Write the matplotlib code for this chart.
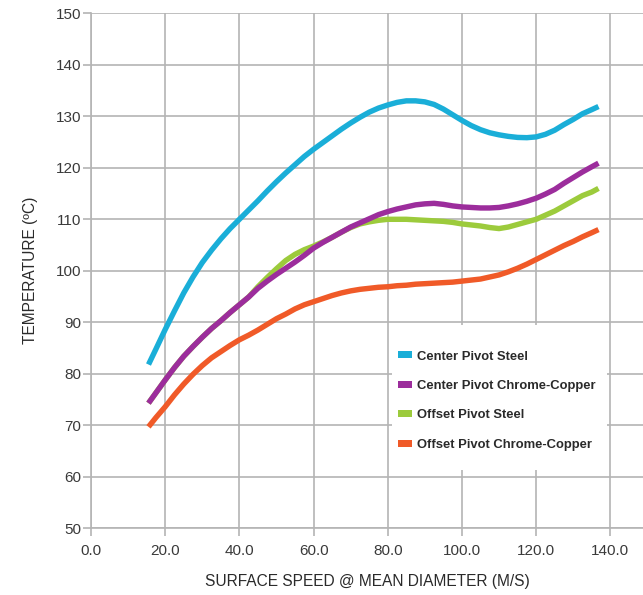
import matplotlib
matplotlib.use("Agg")
import matplotlib.pyplot as plt
from matplotlib.patches import Patch, Rectangle

plt.rcParams['font.family'] = ['Liberation Sans', 'DejaVu Sans']

# Data
speed = [15.5, 17.5, 20, 22.5, 25, 27.5, 30, 32.5, 35, 37.5,
         40, 42.5, 45, 47.5, 50, 52.5, 55, 57.5, 60, 62.5,
         65, 67.5, 70, 72.5, 75, 77.5, 80, 82.5, 85, 87.5,
         90, 92.5, 95, 97.5, 100, 102.5, 105, 107.5, 110, 112.5,
         115, 117.5, 120, 122.5, 125, 127.5, 130, 132.5, 135, 136.8]
center_pivot_steel = [81.8, 84.8, 88.6, 92.2, 95.7, 98.8, 101.6, 104.0, 106.2, 108.2,
                      110.0, 111.8, 113.6, 115.5, 117.3, 119.0, 120.6, 122.2, 123.6, 124.9,
                      126.2, 127.5, 128.7, 129.8, 130.8, 131.6, 132.2, 132.7, 133.0, 133.0,
                      132.8, 132.3, 131.4, 130.3, 129.2, 128.2, 127.4, 126.8, 126.4, 126.1,
                      125.9, 125.85, 126.0, 126.5, 127.3, 128.4, 129.4, 130.5, 131.3, 131.9]
center_pivot_cc = [74.3, 76.3, 78.8, 81.2, 83.4, 85.3, 87.1, 88.8, 90.3, 91.9,
                   93.4, 94.9, 96.6, 98.0, 99.3, 100.5, 101.7, 103.0, 104.4, 105.5,
                   106.5, 107.5, 108.5, 109.3, 110.1, 110.9, 111.5, 112.0, 112.4, 112.8,
                   113.0, 113.1, 112.9, 112.6, 112.4, 112.3, 112.2, 112.2, 112.3, 112.6,
                   113.0, 113.5, 114.1, 114.9, 115.8, 117.0, 118.1, 119.2, 120.2, 120.9]
offset_pivot_steel = [74.3, 76.3, 78.8, 81.2, 83.4, 85.3, 87.1, 88.8, 90.3, 91.9,
                      93.4, 94.9, 96.9, 98.7, 100.4, 102.0, 103.2, 104.1, 104.8, 105.6,
                      106.5, 107.5, 108.4, 109.1, 109.5, 109.8, 110.0, 110.0, 110.0, 109.9,
                      109.8, 109.7, 109.6, 109.4, 109.1, 108.9, 108.7, 108.4, 108.2, 108.5,
                      109.0, 109.5, 110.0, 110.8, 111.6, 112.6, 113.6, 114.6, 115.3, 116.0]
offset_pivot_cc = [69.7, 71.5, 73.6, 75.9, 78.0, 79.9, 81.6, 83.1, 84.3, 85.5,
                   86.6, 87.5, 88.5, 89.6, 90.7, 91.6, 92.6, 93.4, 94.0, 94.6,
                   95.2, 95.7, 96.1, 96.4, 96.6, 96.8, 96.9, 97.1, 97.2, 97.4,
                   97.5, 97.6, 97.7, 97.8, 98.0, 98.2, 98.4, 98.8, 99.2, 99.8,
                   100.5, 101.3, 102.2, 103.1, 104.0, 104.9, 105.7, 106.6, 107.4, 108.0]

series_names = ["Center Pivot Steel", "Center Pivot Chrome-Copper", "Offset Pivot Steel", "Offset Pivot Chrome-Copper"]
series_colors = ["#1aaed8", "#9c2d9c", "#9ccb3c", "#f05a28"]

x_ticks = [0, 20, 40, 60, 80, 100, 120, 140]
y_ticks = [50, 60, 70, 80, 90, 100, 110, 120, 130, 140, 150]

fig = plt.figure(figsize=(6.43, 5.95), dpi=100)
ax = fig.add_axes([91/643, 1 - 528.3/595, (643-91)/643, (528.3-13.3)/595])

grid_c = "#b4b4b4"
lw = 3.9
series_vals = [center_pivot_steel, offset_pivot_steel, center_pivot_cc, offset_pivot_cc]
order_idx = [0, 2, 1, 3]
for vals, i in zip(series_vals, order_idx):
    ax.plot(speed, vals, color=series_colors[i], lw=lw, solid_capstyle='butt',
            solid_joinstyle='round', zorder=3)

ax.set_xlim(0, 148.8)
ax.set_ylim(50, 150)
ax.set_xticks(x_ticks)
ax.set_xticklabels([f"{v:.1f}" for v in x_ticks])
ax.set_yticks(y_ticks)
ax.grid(True, color=grid_c, lw=1.2, zorder=0)
ax.set_axisbelow(True)
for s in ['top', 'right']:
    ax.spines[s].set_visible(False)
for s in ['left', 'bottom']:
    ax.spines[s].set_color(grid_c)
    ax.spines[s].set_linewidth(1.2)
ax.tick_params(axis='both', colors=grid_c, length=6, width=1.2, labelsize=11,
               labelcolor="#3a3a3a")
ax.tick_params(axis='x', pad=5)
ax.tick_params(axis='y', pad=1)
for t in ax.get_yticklabels():
    t.set_clip_on(False)

ax.set_xlabel("SURFACE SPEED @ MEAN DIAMETER (M/S)", fontsize=11.2, color="#2a2a2a", labelpad=12)
ax.set_ylabel("TEMPERATURE (ºC)", fontsize=11.2, color="#2a2a2a", labelpad=13)

# white box behind legend
ax.add_patch(Rectangle((0.5453, 0.1132), 0.9348 - 0.5453, 0.3948 - 0.1132,
                       transform=ax.transAxes, facecolor='white', edgecolor='none', zorder=2))
handles = [Patch(facecolor=c, edgecolor='none') for c in series_colors]
leg = ax.legend(handles, series_names, loc='upper left', bbox_to_anchor=(0.556, 0.345),
                frameon=False, handlelength=1.05, handleheight=0.45, handletextpad=0.4,
                labelspacing=1.33, borderpad=0, borderaxespad=0,
                prop={'weight': 'bold', 'size': 9.4})
leg.set_zorder(4)
for t in leg.get_texts():
    t.set_color("#2a2a2a")

fig.savefig("out.png", dpi=100)
